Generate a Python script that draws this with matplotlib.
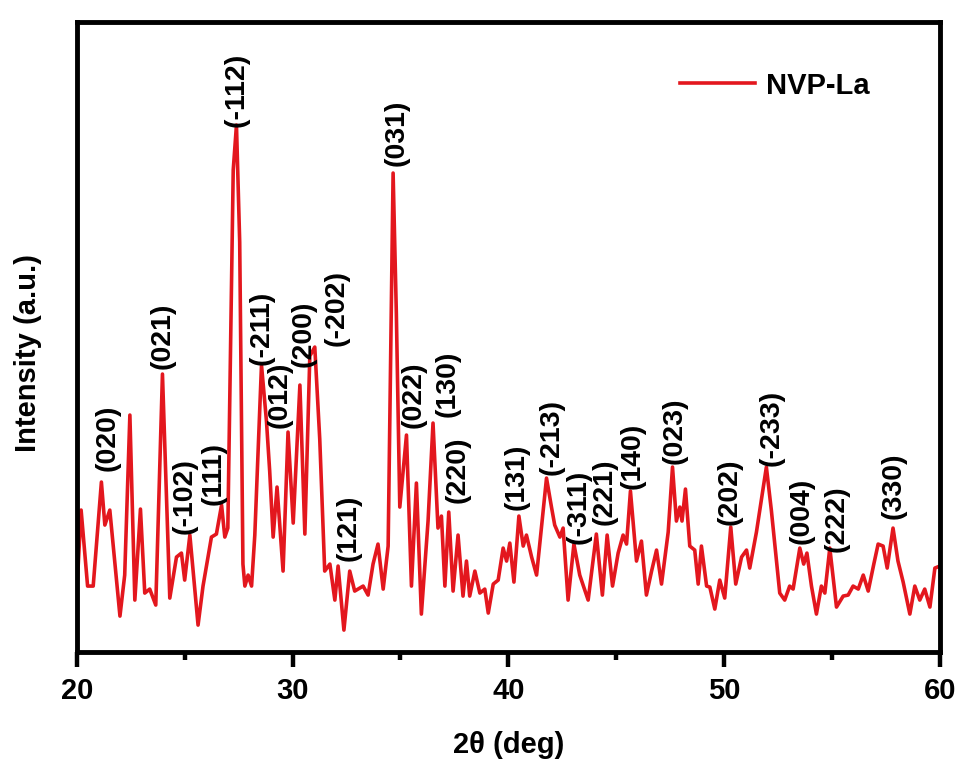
import matplotlib
matplotlib.use("Agg")
import matplotlib.pyplot as plt

plt.rcParams["font.family"] = ["Liberation Sans", "DejaVu Sans"]
plt.rcParams["font.weight"] = "bold"

RED = "#e3171e"

# 2theta (deg) and intensity (a.u.)
two_theta = [
    20.00, 20.20, 20.50, 20.76, 21.14, 21.30, 21.53, 22.00, 22.22, 22.46,
    22.69, 22.95, 23.15, 23.38, 23.66, 23.97, 24.31, 24.62, 24.85, 25.00,
    25.24, 25.62, 25.85, 26.24, 26.47, 26.71, 26.86, 27.00, 27.25, 27.40,
    27.55, 27.70, 27.79, 27.94, 28.10, 28.25, 28.56, 28.79, 28.94, 29.10,
    29.28, 29.56, 29.79, 30.03, 30.34, 30.57, 30.80, 31.03, 31.26, 31.49,
    31.73, 31.96, 32.11, 32.38, 32.65, 32.88, 33.27, 33.50, 33.73, 33.96,
    34.20, 34.43, 34.66, 34.81, 34.97, 35.28, 35.51, 35.74, 35.97, 36.28,
    36.51, 36.74, 36.90, 37.06, 37.24, 37.44, 37.67, 37.90, 38.06, 38.21,
    38.45, 38.68, 38.91, 39.07, 39.30, 39.53, 39.76, 39.92, 40.07, 40.26,
    40.49, 40.69, 40.84, 41.08, 41.31, 41.77, 42.00, 42.15, 42.39, 42.54,
    42.77, 43.04, 43.31, 43.70, 44.08, 44.36, 44.58, 44.83, 45.09, 45.32,
    45.48, 45.66, 45.94, 46.17, 46.40, 46.64, 46.87, 47.10, 47.41, 47.61,
    47.79, 47.95, 48.05, 48.21, 48.41, 48.64, 48.80, 48.95, 49.19, 49.34,
    49.57, 49.80, 50.03, 50.31, 50.54, 50.81, 51.04, 51.19, 51.50, 51.96,
    52.19, 52.43, 52.58, 52.81, 53.04, 53.20, 53.51, 53.69, 53.84, 54.05,
    54.28, 54.51, 54.67, 54.90, 55.21, 55.52, 55.75, 55.98, 56.22, 56.45,
    56.68, 56.94, 57.14, 57.37, 57.56, 57.83, 58.06, 58.30, 58.61, 58.84,
    59.07, 59.30, 59.54, 59.77, 60.00,
]
intensity = [
    60, 142, 66, 66, 170, 127, 142, 36, 77, 237,
    52, 143, 59, 63, 47, 278, 54, 95, 99, 72,
    117, 27, 66, 115, 118, 147, 115, 124, 482, 527,
    410, 88, 66, 77, 66, 117, 287, 231, 181, 115,
    165, 81, 220, 129, 267, 118, 296, 305, 213, 81,
    88, 52, 86, 22, 81, 61, 66, 57, 88, 108,
    63, 106, 479, 339, 145, 217, 66, 169, 38, 131,
    229, 124, 136, 66, 140, 61, 117, 56, 91, 56,
    81, 59, 63, 39, 68, 72, 104, 91, 109, 70,
    136, 106, 117, 95, 77, 174, 145, 127, 115, 124,
    52, 108, 77, 52, 118, 57, 117, 66, 99, 117,
    108, 161, 91, 111, 57, 81, 102, 68, 120, 185,
    131, 145, 131, 163, 106, 102, 68, 106, 66, 65,
    43, 72, 54, 125, 68, 95, 102, 84, 120, 185,
    142, 91, 59, 52, 66, 63, 104, 88, 99, 66,
    38, 66, 59, 104, 45, 56, 57, 66, 63, 77,
    61, 88, 108, 106, 84, 124, 91, 70, 38, 66,
    52, 63, 45, 84, 86,
]

# Miller indices and where each label sits
hkl = ["(020)", "(021)", "(-102)", "(111)", "(-112)", "(-211)", "(012)", "(200)",
       "(-202)", "(121)", "(031)", "(022)", "(130)", "(220)", "(131)", "(-213)",
       "(-311)", "(221)", "(140)", "(023)", "(202)", "(-233)", "(004)", "(222)",
       "(330)"]
hkl_x = [21.44, 24.0, 25.0, 26.32, 27.42, 28.56, 29.41, 30.49,
         32.04, 32.58, 34.82, 35.59, 37.21, 37.67, 40.38, 42.0,
         43.24, 44.47, 45.78, 47.7, 50.27, 52.2, 53.59, 55.21,
         57.84]
hkl_y = [181, 283, 118, 147, 525, 287, 224, 285,
         306, 91, 486, 224, 235, 149, 142, 177,
         108, 127, 163, 188, 127, 186, 108, 100,
         133]

fig = plt.figure(figsize=(9.6, 7.6), dpi=100)
ax = fig.add_axes([0.080, 0.142, 0.899, 0.829])

ax.plot(two_theta, intensity, color=RED, lw=2.6, label="NVP-La")

for lab, x, y in zip(hkl, hkl_x, hkl_y):
    ax.text(x, y, lab, rotation=90, ha="center", va="bottom",
            fontsize=20.5, weight="bold", color="black")

ax.set_xlim(20, 60)
ax.set_ylim(0, 630)
ax.set_xticks([20, 30, 40, 50, 60])
ax.set_xticks([25, 35, 45, 55], minor=True)
ax.set_yticks([])
ax.tick_params(axis="x", which="major", direction="out", length=11, width=3.2,
               pad=7, labelsize=21)
ax.tick_params(axis="x", which="minor", direction="out", length=6, width=3.2)
for lab in ax.get_xticklabels():
    lab.set_fontweight("bold")
for sp in ax.spines.values():
    sp.set_linewidth(3.5)

ax.set_xlabel("2θ (deg)", fontsize=21, weight="bold", labelpad=19)
ax.set_ylabel("Intensity (a.u.)", fontsize=21, weight="bold")
ax.yaxis.set_label_coords(-0.040, 0.475)

leg = ax.legend(loc="upper left", bbox_to_anchor=(0.668, 0.963), frameon=False,
                fontsize=21, handlelength=2.6, handletextpad=0.35)
for t in leg.get_texts():
    t.set_fontweight("bold")

fig.savefig("out.png", dpi=100, facecolor="white")
